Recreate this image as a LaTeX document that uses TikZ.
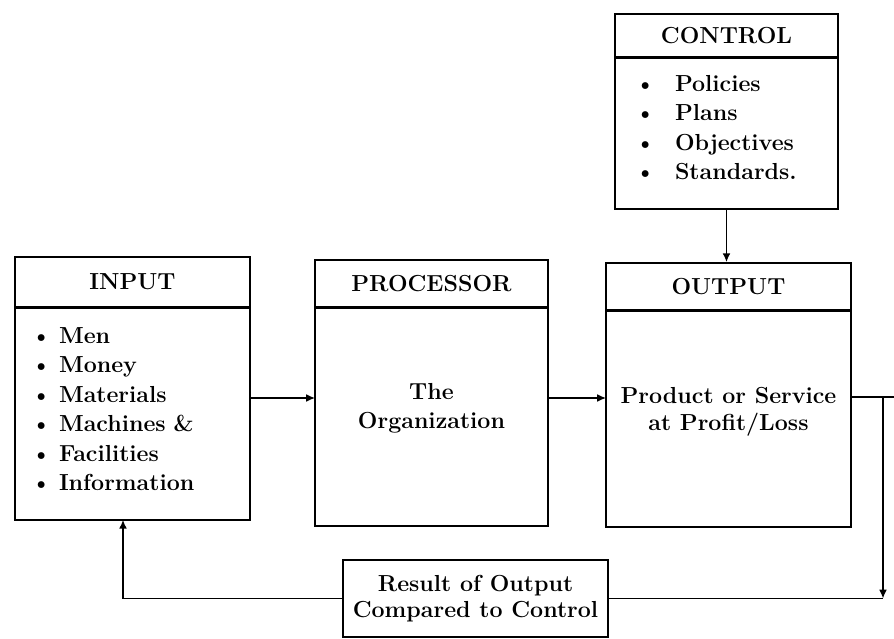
\documentclass[tikz,border=0pt]{standalone}
\usetikzlibrary{positioning,arrows.meta}

\newcommand{\blt}[2]{\makebox[#1][l]{\textbullet}#2}

\tikzset{
  head/.style={draw, line width=1pt, inner sep=0pt, font=\fontsize{13.2}{15}\selectfont\bfseries},
  body/.style={draw, line width=1pt, inner sep=0pt, outer sep=0pt, font=\fontsize{13.2}{16.8}\selectfont\bfseries},
  link/.style={line width=0.9pt},
  flowarrow/.style={link, -{Latex[length=5pt,width=4.5pt]}}
}

\begin{document}
\begin{tikzpicture}[x=0.02cm, y=-0.02cm]
    \useasboundingbox (0,0) rectangle (894,639);

    % Input block
    \node[head, minimum width=4.7cm, minimum height=1.0cm] (inhead) at (132.5,282) {INPUT};
    \node[body, below=0pt of inhead, minimum width=4.7cm, minimum height=4.24cm,
          text width=4.06cm, inner xsep=0.32cm, align=left] (inbody)
        {\blt{0.56cm}{Men}\\ \blt{0.56cm}{Money}\\ \blt{0.56cm}{Materials}\\
         \blt{0.56cm}{Machines \&}\\ \blt{0.56cm}{Facilities}\\ \blt{0.56cm}{Information}\\[-0.39cm]\mbox{}};

    % Processor block
    \node[head, minimum width=4.66cm, minimum height=0.94cm] (prochead) at (431.5,283.5) {PROCESSOR};
    \node[body, below=0pt of prochead, minimum width=4.66cm, minimum height=4.36cm, align=center] (procbody)
        {The\\ Organization\\[-0.15cm]};

    % Output block
    \node[head, minimum width=4.9cm, minimum height=0.94cm] (outhead) at (728.5,286.5) {OUTPUT};
    \node[body, below=0pt of outhead, minimum width=4.9cm, minimum height=4.32cm, align=center,
          font=\fontsize{13.2}{15.4}\selectfont\bfseries] (outbody)
        {Product or Service\\ at Profit/Loss\\[-0.16cm]};

    % Control block
    \node[head, minimum width=4.46cm, minimum height=0.86cm] (ctrlhead) at (726.5,35.5) {CONTROL};
    \node[body, below=0pt of ctrlhead, minimum width=4.46cm, minimum height=3.02cm,
          text width=3.66cm, inner xsep=0.4cm, align=left] (ctrlbody)
        {\blt{0.8cm}{Policies}\\ \blt{0.8cm}{Plans}\\ \blt{0.8cm}{Objectives}\\
         \blt{0.8cm}{Standards.}\\[-0.35cm]\mbox{}};

    % Feedback block
    \node[body, minimum width=5.3cm, minimum height=1.54cm, align=center,
          font=\fontsize{13.2}{14.8}\selectfont\bfseries] (result) at (475.5,598.5)
        {Result of Output\\ Compared to Control};

    % Connectors
    \coordinate (flowrow) at (0,398);
    \coordinate (fbedge) at (894,397);
    \coordinate (fbturn) at (883,598.5);

    \draw[flowarrow] (ctrlbody.south) -- (ctrlbody.south |- outhead.north);
    \draw[flowarrow] (inbody.east |- flowrow) -- (procbody.west |- flowrow);
    \draw[flowarrow] (procbody.east |- flowrow) -- (outbody.west |- flowrow);
    \draw[link] (outbody.east |- fbedge) -- (fbedge);
    \draw[flowarrow] (fbedge -| fbturn) -- (fbturn);
    \draw[link] (fbturn) -- (result.east);
    \draw[flowarrow] (result.west) -| ([xshift=-0.19cm]inbody.south);
\end{tikzpicture}
\end{document}
